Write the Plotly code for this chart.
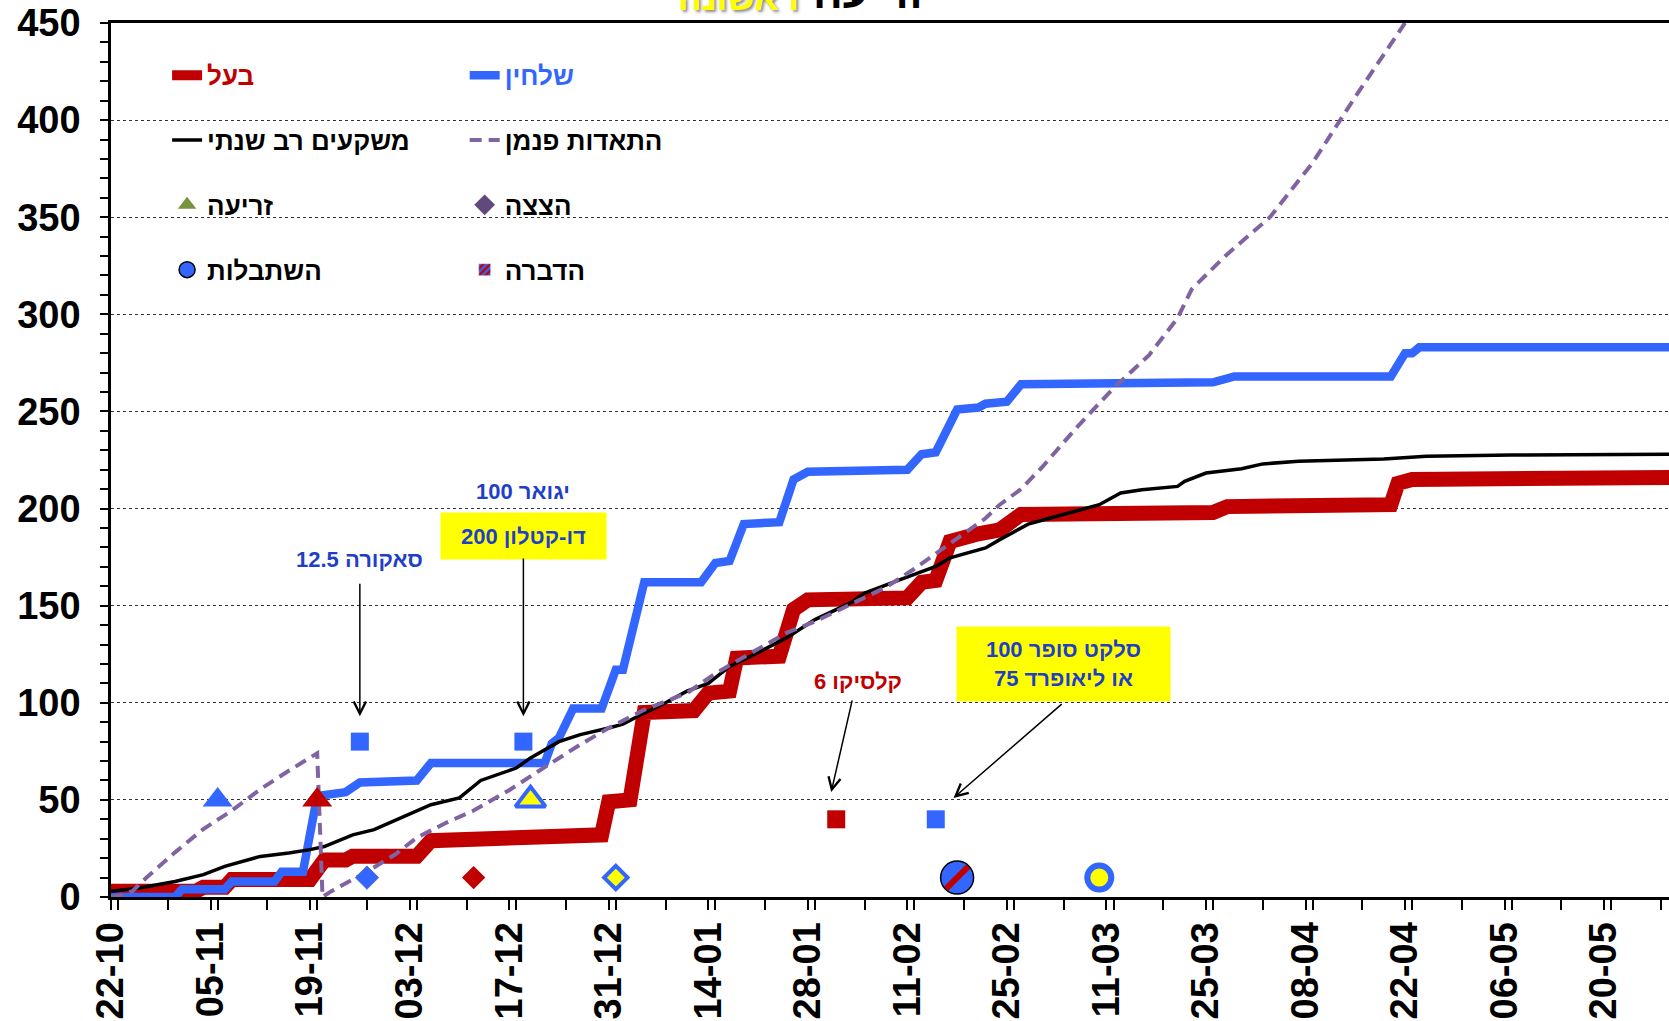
import plotly.graph_objects as go

# cumulative water (mm) from 22-10, first sowing
rainfed_dates = ["2022-10-22", "2022-11-03", "2022-11-04", "2022-11-07", "2022-11-08", "2022-11-19",
                 "2022-11-21", "2022-11-24", "2022-11-25", "2022-12-04", "2022-12-06", "2022-12-23",
                 "2022-12-30", "2022-12-31", "2023-01-03", "2023-01-05", "2023-01-12", "2023-01-14",
                 "2023-01-17", "2023-01-18", "2023-01-24", "2023-01-26", "2023-01-28", "2023-02-11",
                 "2023-02-13", "2023-02-15", "2023-02-17", "2023-02-21", "2023-02-24", "2023-02-27",
                 "2023-03-26", "2023-03-28", "2023-04-20", "2023-04-21", "2023-04-23", "2023-05-31"]
rainfed_mm = [3, 3, 5, 5, 9, 9, 19, 19, 21, 21, 29, 30, 32, 49, 50, 95, 96, 105,
              106, 123, 124, 148, 153, 154, 162, 163, 183, 187, 189, 197, 198, 201, 202, 213, 215, 216]

irrigated_dates = ["2022-10-22", "2022-10-31", "2022-11-01", "2022-11-07", "2022-11-08", "2022-11-14",
                   "2022-11-15", "2022-11-18", "2022-11-20", "2022-11-24", "2022-11-26", "2022-12-04",
                   "2022-12-06", "2022-12-22", "2022-12-23", "2022-12-24", "2022-12-26", "2022-12-30",
                   "2023-01-01", "2023-01-02", "2023-01-05", "2023-01-13", "2023-01-15", "2023-01-17",
                   "2023-01-19", "2023-01-24", "2023-01-26", "2023-01-28", "2023-02-11", "2023-02-13",
                   "2023-02-15", "2023-02-18", "2023-02-21", "2023-02-22", "2023-02-25", "2023-02-27",
                   "2023-03-26", "2023-03-29", "2023-04-20", "2023-04-22", "2023-04-23", "2023-04-24",
                   "2023-05-31"]
irrigated_mm = [0, 0, 4, 4, 8, 8, 13, 13, 52, 54, 59, 60, 69, 69, 79, 82, 97, 97, 117, 117,
                162, 162, 172, 173, 192, 193, 215, 219, 220, 228, 229, 251, 252, 254, 255, 264,
                265, 268, 268, 280, 280, 283, 283]

rain_avg_dates = ["2022-10-22", "2022-10-26", "2022-10-31", "2022-11-04", "2022-11-07", "2022-11-12",
                  "2022-11-16", "2022-11-19", "2022-11-21", "2022-11-25", "2022-11-28", "2022-12-03",
                  "2022-12-06", "2022-12-10", "2022-12-13", "2022-12-18", "2022-12-20", "2022-12-24",
                  "2022-12-27", "2022-12-31", "2023-01-02", "2023-01-05", "2023-01-08", "2023-01-11",
                  "2023-01-14", "2023-01-17", "2023-01-20", "2023-01-25", "2023-01-29", "2023-02-03",
                  "2023-02-05", "2023-02-10", "2023-02-15", "2023-02-17", "2023-02-22", "2023-02-24",
                  "2023-02-28", "2023-03-03", "2023-03-06", "2023-03-10", "2023-03-13", "2023-03-16",
                  "2023-03-21", "2023-03-22", "2023-03-25", "2023-03-30", "2023-04-02", "2023-04-07",
                  "2023-04-19", "2023-04-25", "2023-05-07", "2023-05-31"]
rain_avg_mm = [3, 4.6, 8, 11.5, 15.8, 20.9, 22.7, 24.4, 26, 32, 34.7, 42.4, 47.5, 51, 60, 66.4,
               71.6, 80, 83.6, 87, 89, 94.7, 100, 106, 110, 118.7, 124, 133.4, 142.8, 151.4, 156.5,
               163.4, 170.2, 174.6, 179.7, 184, 192, 195, 198, 202, 208, 209.7, 211.4, 214, 218.3,
               220.5, 223, 224.3, 225.5, 226.9, 227.6, 228]

et_dates = ["2022-10-22", "2022-10-23", "2022-10-25", "2022-10-27", "2022-10-31", "2022-11-04",
            "2022-11-08", "2022-11-12", "2022-11-16", "2022-11-20", "2022-11-20 18:00", "2022-11-22",
            "2022-11-27", "2022-12-01", "2022-12-04", "2022-12-08", "2022-12-12", "2022-12-17",
            "2022-12-21", "2022-12-27", "2022-12-31", "2023-01-05", "2023-01-11", "2023-01-15",
            "2023-01-20", "2023-01-25", "2023-01-29", "2023-02-03", "2023-02-08", "2023-02-12",
            "2023-02-17", "2023-02-22", "2023-02-24", "2023-02-27", "2023-03-02", "2023-03-07",
            "2023-03-12", "2023-03-17", "2023-03-21", "2023-03-23", "2023-03-28", "2023-04-03",
            "2023-04-09", "2023-04-15", "2023-04-22"]
et_mm = [0, 0.5, 3, 10, 23, 35, 44.5, 55.5, 65, 74, 0, 3, 13, 22, 30.5, 38, 44.5, 55, 64.5,
         78.5, 87, 96.4, 105, 115, 125.6, 136, 141.8, 150.5, 159.5, 169, 182, 195, 202, 210,
         221.5, 242.5, 262, 279, 298, 313, 331, 350, 378, 412, 450]

# events
sowing_dates = ["2022-11-06", "2022-11-20", "2022-12-20"]
sowing_y = [50, 50, 50]
emerge_dates = ["2022-11-27", "2022-12-12", "2023-01-01"]
emerge_y = [10, 10, 10]
spray_dates = ["2022-11-26", "2022-12-19", "2023-02-01", "2023-02-15"]
spray_y = [80, 80, 40, 40]
heading_dates = ["2023-02-18", "2023-03-10"]
heading_y = [10, 10]

RED = "#C00000"
BLUE = "#3366FF"
PURPLE = "#8064A2"
TXT_BLUE = "#1F3FC8"
FONT = "Liberation Sans, Arial, sans-serif"

fig = go.Figure()

fig.add_trace(go.Scatter(x=rainfed_dates, y=rainfed_mm, mode="lines", name="<span style='color:#C00000'>בעל</span>",
                         line=dict(color=RED, width=15), legend="legend", legendgroup="a"))
fig.add_trace(go.Scatter(x=irrigated_dates, y=irrigated_mm, mode="lines", name="<span style='color:#3366FF'>שלחין</span>",
                         line=dict(color=BLUE, width=8.5), legend="legend2", legendgroup="b"))
fig.add_trace(go.Scatter(x=rain_avg_dates, y=rain_avg_mm, mode="lines", name="משקעים רב שנתי",
                         line=dict(color="black", width=3.5), legend="legend", legendgroup="c"))
fig.add_trace(go.Scatter(x=et_dates, y=et_mm, mode="lines", name="התאדות פנמן",
                         line=dict(color=PURPLE, width=4, dash="12px,7px"), legend="legend2", legendgroup="d"))

# legend-only entries
fig.add_trace(go.Scatter(x=[None], y=[None], mode="markers", name="זריעה", legend="legend", legendgroup="e",
                         marker=dict(symbol="triangle-up", size=20, color="#77933C")))
fig.add_trace(go.Scatter(x=[None], y=[None], mode="markers", name="הצצה", legend="legend2", legendgroup="f",
                         marker=dict(symbol="diamond", size=16, color="#604A7B")))
fig.add_trace(go.Scatter(x=[None], y=[None], mode="markers", name="השתבלות", legend="legend", legendgroup="g",
                         marker=dict(symbol="circle", size=16, color=BLUE, line=dict(color="black", width=1.5))))
fig.add_trace(go.Bar(x=[None], y=[None], name="הדברה", legend="legend2", legendgroup="h",
                     marker=dict(color=BLUE, pattern=dict(shape="/", fgcolor=RED, bgcolor=BLUE,
                                                          fillmode="replace", size=6, solidity=0.5))))

# event markers
fig.add_trace(go.Scatter(x=sowing_dates, y=sowing_y, mode="markers", showlegend=False,
                         marker=dict(symbol="triangle-up", size=26, color=[BLUE, RED, "yellow"],
                                     line=dict(color=[BLUE, RED, BLUE], width=[0, 0, 4]))))
fig.add_trace(go.Scatter(x=emerge_dates, y=emerge_y, mode="markers", showlegend=False,
                         marker=dict(symbol="diamond", size=18, color=[BLUE, RED, "yellow"],
                                     line=dict(color=["#5A6FB0", RED, BLUE], width=[1, 0, 4]))))
fig.add_trace(go.Scatter(x=spray_dates, y=spray_y, mode="markers", showlegend=False,
                         marker=dict(symbol="square", size=18, color=[BLUE, BLUE, RED, BLUE])))
fig.add_trace(go.Scatter(x=heading_dates, y=heading_y, mode="markers", showlegend=False,
                         marker=dict(symbol="circle", size=[33, 24], color=[BLUE, "yellow"], opacity=1,
                                     line=dict(color=["black", BLUE], width=[1.5, 6]))))
fig.add_trace(go.Scatter(x=heading_dates[:1], y=heading_y[:1], mode="markers", showlegend=False,
                         marker=dict(symbol="line-ne", size=22, opacity=1, line=dict(color=RED, width=6))))

ann_font = dict(family=FONT, size=22, color=TXT_BLUE, weight="bold")
annotations = [
    dict(x="2022-11-26", y=174, text="12.5 סאקורה", showarrow=False, font=ann_font),
    dict(x="2022-12-19", y=209, text="100 יגואר", showarrow=False, font=ann_font),
    dict(x="2022-12-19", y=186, text="200 דו-קטלון", showarrow=False, font=ann_font,
         bgcolor="yellow", width=163, height=44),
    dict(x="2023-02-04", y=111, text="6 קלסיקו", showarrow=False, font=dict(ann_font, color=RED)),
    dict(x="2023-03-05", y=120, text="100 סלקט סופר<br>75 או ליאופרד", showarrow=False, font=ann_font,
         bgcolor="yellow", width=211, height=72),
]
# arrows
arrow_style = dict(text="", showarrow=True, arrowhead=5, arrowsize=1.6, arrowwidth=1.5,
                   arrowcolor="black", axref="x", ayref="y")
annotations += [
    dict(arrow_style, x="2022-11-26", y=93, ax="2022-11-26", ay=162),
    dict(arrow_style, x="2022-12-19", y=93, ax="2022-12-19", ay=175),
    dict(arrow_style, x="2023-01-31 07:00", y=54, ax="2023-02-03 07:00", ay=102),
    dict(arrow_style, x="2023-02-17 12:00", y=51, ax="2023-03-04 22:00", ay=100),
]
# title (cut at the top of the picture)
annotations += [
    dict(xref="paper", yref="paper", x=0.4427, y=1, xanchor="right", yanchor="bottom", yshift=4,
         text="ראשונה", showarrow=False,
         font=dict(family=FONT, size=35, color="yellow", weight="bold", shadow="2px 2px 3px #888")),
    dict(xref="paper", yref="paper", x=0.4494, y=1, xanchor="left", yanchor="bottom", yshift=4,
         text="זריעה", showarrow=False, font=dict(family=FONT, size=44, color="black", weight="bold")),
]

legend_common = dict(font=dict(family=FONT, size=26, color="black", weight="bold"),
                     bgcolor="rgba(0,0,0,0)", traceorder="grouped", tracegroupgap=28,
                     xanchor="left", yanchor="top", y=0.967, itemsizing="trace")

fig.update_layout(
    width=1669, height=1021,
    margin=dict(l=111, r=0, t=23, b=124),
    plot_bgcolor="white", paper_bgcolor="white",
    font=dict(family=FONT),
    showlegend=True,
    legend=dict(legend_common, x=0.036),
    legend2=dict(legend_common, x=0.227),
    annotations=annotations,
    shapes=[dict(type="rect", xref="paper", yref="paper", x0=0, x1=0.39, y0=0.69, y1=1,
                 fillcolor="white", line=dict(width=0), layer="between")],
    xaxis=dict(type="date", range=["2022-10-22", "2023-05-29 03:00"], automargin=False,
               tick0="2022-10-22", dtick=14 * 86400000, tickformat="%d-%m", tickangle=-90,
               tickfont=dict(family=FONT, size=38, color="black", weight="bold"),
               ticks="outside", ticklen=10, tickwidth=1.5, tickcolor="black", ticklabelstandoff=-3,
               minor=dict(dtick=7 * 86400000, ticks="outside", ticklen=10, tickwidth=1.5, tickcolor="black"),
               showline=True, linecolor="black", linewidth=3, mirror=True, showgrid=False, zeroline=False),
    yaxis=dict(range=[0, 450], dtick=50, automargin=False,
               tickfont=dict(family=FONT, size=38, color="black", weight="bold"),
               ticks="outside", ticklen=8, tickwidth=1.5, tickcolor="black", ticklabelstandoff=12,
               minor=dict(dtick=10, ticks="outside", ticklen=8, tickwidth=1.5, tickcolor="black"),
               showline=True, linecolor="black", linewidth=2.5, zeroline=False,
               showgrid=True, gridcolor="#333", gridwidth=1, griddash="dot"),
)

# page body has a default margin; drop it so the figure fills the window exactly
fig.write_html("out.html", config={"displayModeBar": False},
               post_script="document.body.style.margin='0';")
